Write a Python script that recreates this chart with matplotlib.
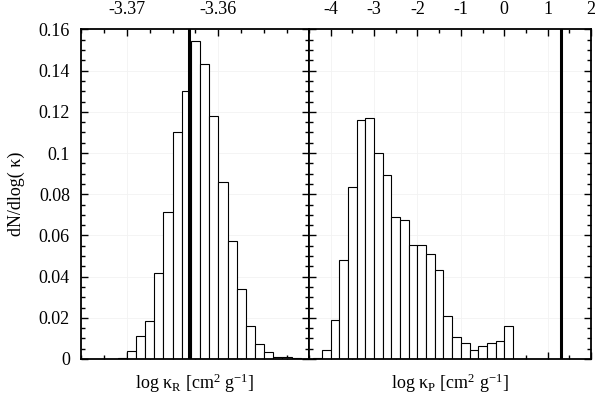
import matplotlib
matplotlib.use('Agg')
import matplotlib.pyplot as plt
from matplotlib.ticker import FixedLocator, MultipleLocator, FuncFormatter

plt.rcParams['font.family'] = ['Liberation Serif', 'DejaVu Serif']
plt.rcParams['mathtext.fontset'] = 'custom'
plt.rcParams['mathtext.rm'] = 'Liberation Serif'
plt.rcParams['mathtext.it'] = 'Liberation Serif:italic'
plt.rcParams['axes.unicode_minus'] = False

# Rosseland mean opacity histogram (bin left edges, bin width 0.001)
kR_left = [-3.371, -3.370, -3.369, -3.368, -3.367, -3.366, -3.365, -3.364, -3.363, -3.362,
           -3.361, -3.360, -3.359, -3.358, -3.357, -3.356, -3.355, -3.354, -3.353, -3.352]
kR_hist = [0.0005, 0.0040, 0.0111, 0.0183, 0.0417, 0.0713, 0.1102, 0.1303, 0.1542, 0.1432,
           0.1178, 0.0860, 0.0574, 0.0338, 0.0159, 0.0074, 0.0032, 0.0011, 0.0011, 0.0005]
kR_ref = -3.3632

# Planck mean opacity histogram (bin left edges, bin width 0.2)
kP_left = [-4.4, -4.2, -4.0, -3.8, -3.6, -3.4, -3.2, -3.0, -2.8, -2.6, -2.4, -2.2,
           -2.0, -1.8, -1.6, -1.4, -1.2, -1.0, -0.8, -0.6, -0.4, -0.2, 0.0]
kP_hist = [0.0005, 0.0042, 0.0191, 0.0481, 0.0835, 0.1159, 0.1170, 0.0999, 0.0893, 0.0689,
           0.0674, 0.0555, 0.0554, 0.0512, 0.0430, 0.0208, 0.0105, 0.0080, 0.0043, 0.0063,
           0.0080, 0.0087, 0.0159]
kP_ref = 1.3

fig = plt.figure(figsize=(6.0, 3.98), dpi=100)
ax1 = fig.add_axes([0.135, 0.098, 0.38, 0.828])
ax2 = fig.add_axes([0.515, 0.098, 0.47, 0.828], sharey=ax1)

ax1.bar(kR_left, kR_hist, width=0.001, align='edge', color='white', edgecolor='black', linewidth=0.8)
ax1.axvline(kR_ref, color='black', lw=2.2)
ax2.bar(kP_left, kP_hist, width=0.2, align='edge', color='white', edgecolor='black', linewidth=0.8)
ax2.axvline(kP_ref, color='black', lw=2.2)

ax1.set_xlim(-3.375, -3.3501)
ax1.xaxis.set_major_locator(FixedLocator([-3.37, -3.36]))
ax1.xaxis.set_minor_locator(MultipleLocator(0.0025))
ax2.set_xlim(-4.5, 2)
ax2.xaxis.set_major_locator(MultipleLocator(1))
ax2.xaxis.set_minor_locator(MultipleLocator(0.5))

ax1.set_ylim(0, 0.16)
ax1.yaxis.set_major_locator(MultipleLocator(0.02))
ax1.yaxis.set_minor_locator(MultipleLocator(0.005))
ax1.yaxis.set_major_formatter(FuncFormatter(lambda v, p: '%g' % round(v, 4)))

for ax in (ax1, ax2):
    ax.tick_params(which='both', direction='in', top=True, bottom=True, left=True, right=True,
                   labeltop=True, labelbottom=False, labelsize=13, width=1.0)
    ax.tick_params(which='major', length=5, pad=8)
    ax.tick_params(which='minor', length=3)
    ax.grid(True, which='major', color='#f2f2f2', lw=0.6)
    ax.set_axisbelow(True)
    for s in ax.spines.values():
        s.set_linewidth(1.3)
ax2.tick_params(labelleft=False)

ax1.set_xlabel('log κ$_{\\rm R}$ [cm$^{2}$ g$^{-1}$]', fontsize=13, labelpad=9)
ax2.set_xlabel('log κ$_{\\rm P}$ [cm$^{2}$ g$^{-1}$]', fontsize=13, labelpad=9)
ax1.set_ylabel('dN/dlog( κ)', fontsize=13, labelpad=10)

fig.savefig('out.png', dpi=100)
